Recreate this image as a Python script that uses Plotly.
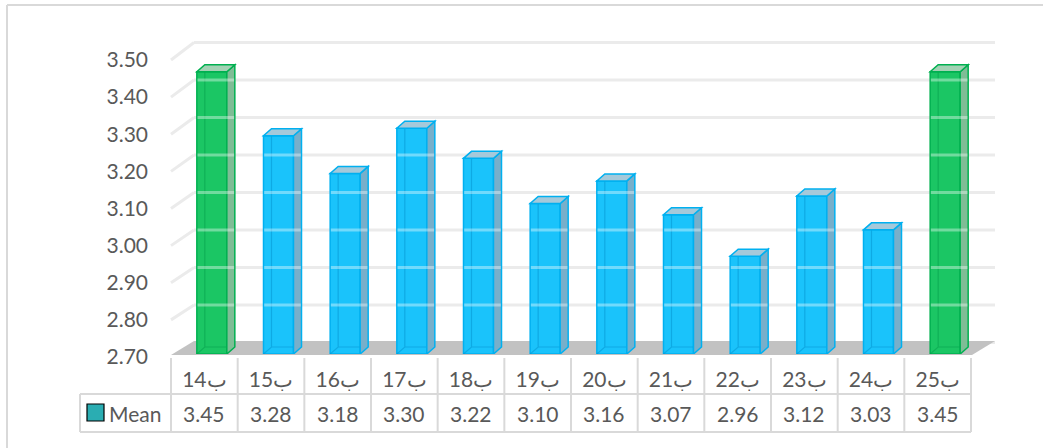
import plotly.graph_objects as go

# ---- data -------------------------------------------------------------
categories = ["ب14", "ب15", "ب16", "ب17", "ب18", "ب19",
              "ب20", "ب21", "ب22", "ب23", "ب24", "ب25"]
mean_values = [3.45, 3.28, 3.18, 3.30, 3.22, 3.10,
               3.16, 3.07, 2.96, 3.12, 3.03, 3.45]
y_ticks = [2.70, 2.80, 2.90, 3.00, 3.10, 3.20, 3.30, 3.40, 3.50]
series_name = "Mean"

# ---- page geometry (pixels) ------------------------------------------
W, H = 1043, 448
Y_MIN, Y_MAX = 2.70, 3.50
X_LEFT, X_RIGHT = 171, 971            # table / category band
BAR_BOTTOM, BAR_TOP = 354, 53          # front plane of the columns
LAB_BOTTOM, LAB_TOP = 357, 60          # value-axis labels
WALL_BOTTOM, WALL_TOP = 342.5, 42.5    # back wall
WALL_X0, WALL_X1 = 194, 995
FLOOR_FRONT, FLOOR_BACK = 355, 341
TABLE_ROW_TOP, TABLE_BOTTOM, TABLE_LEFT = 394, 432, 80
HEADER_TOP = 358

n = len(categories)
col_w = (X_RIGHT - X_LEFT) / n
X_PX = col_w                                   # px per x unit
Y_PX = (BAR_BOTTOM - BAR_TOP) / (Y_MAX - Y_MIN)  # px per y unit

BAR_W_PX, BAR_SHIFT_PX = 30, 7.5
DEPTH_DX, DEPTH_DY = 8, 7

FONT = dict(family="Lato, 'Open Sans', sans-serif", size=21, color="#595959")
GRID = "#ebebeb"
TABLE_LINE = "#d9d9d9"


def px(x):
    return x / W


def py(y):
    return 1 - y / H


def wall_y(v):
    return WALL_BOTTOM - (v - Y_MIN) * (WALL_BOTTOM - WALL_TOP) / (Y_MAX - Y_MIN)


def label_y(v):
    return LAB_BOTTOM - (v - Y_MIN) * (LAB_BOTTOM - LAB_TOP) / (Y_MAX - Y_MIN)


top_value = max(mean_values)
front_col = ["#1bc664" if v == top_value else "#1ac3fb" for v in mean_values]
edge_col = ["#00b050" if v == top_value else "#00b0f0" for v in mean_values]
side_col = ["#7fbd96" if v == top_value else "#78afca" for v in mean_values]
lid_col = ["#a3d2b4" if v == top_value else "#a5c9da" for v in mean_values]
ghost_col = ["rgba(0,150,70,0.45)" if v == top_value else "rgba(0,140,200,0.45)"
             for v in mean_values]

fig = go.Figure()

fig.add_trace(go.Bar(
    x=list(range(n)),
    y=[v - Y_MIN for v in mean_values],
    base=Y_MIN,
    width=BAR_W_PX / X_PX,
    offset=(BAR_SHIFT_PX - BAR_W_PX / 2) / X_PX,
    marker=dict(color=front_col, line=dict(color=edge_col, width=1.5)),
    name=series_name,
    hoverinfo="skip",
    showlegend=False,
))

# carrier for the value axis labels
fig.add_trace(go.Scatter(
    x=[0], y=[Y_MIN], xaxis="x", yaxis="y2", mode="markers",
    marker=dict(opacity=0), hoverinfo="skip", showlegend=False,
))

shapes = []

# chart frame
shapes.append(dict(type="line", xref="paper", yref="paper",
                   x0=px(7), x1=px(W + 5), y0=py(5), y1=py(5),
                   line=dict(color=TABLE_LINE, width=2)))
shapes.append(dict(type="line", xref="paper", yref="paper",
                   x0=px(7), x1=px(7), y0=py(5), y1=py(H + 5),
                   line=dict(color=TABLE_LINE, width=2)))

# back-wall gridlines and their side-wall diagonals
for t in y_ticks:
    yb = wall_y(t)
    shapes.append(dict(type="line", xref="paper", yref="paper", layer="below",
                       x0=px(WALL_X0), x1=px(WALL_X1), y0=py(yb), y1=py(yb),
                       line=dict(color=GRID, width=3)))
    if t > Y_MIN:
        shapes.append(dict(type="line", xref="paper", yref="paper", layer="below",
                           x0=px(X_LEFT), x1=px(WALL_X0),
                           y0=py(label_y(t)), y1=py(yb),
                           line=dict(color=GRID, width=3)))

# floor
shapes.append(dict(
    type="path", xref="paper", yref="paper", layer="below",
    path=(f"M {px(X_LEFT)},{py(FLOOR_FRONT)} L {px(X_RIGHT + 1)},{py(FLOOR_FRONT)} "
          f"L {px(WALL_X1)},{py(FLOOR_BACK)} L {px(WALL_X0)},{py(FLOOR_BACK)} Z"),
    fillcolor="#c2c2c2", line=dict(width=0)))

# 3-D faces of the columns
dx = DEPTH_DX / X_PX
dy = DEPTH_DY / Y_PX
for i, v in enumerate(mean_values):
    xl = i + (BAR_SHIFT_PX - BAR_W_PX / 2) / X_PX
    xr = xl + BAR_W_PX / X_PX
    yb, yt = Y_MIN, v
    # hidden edges seen through the translucent box
    shapes.append(dict(type="path", xref="x", yref="y", layer="above",
                       path=(f"M {xl},{yb} L {xl + dx},{yb + dy} L {xr + dx},{yb + dy} "
                             f"M {xl + dx},{yb + dy} L {xl + dx},{yt + dy}"),
                       line=dict(color=ghost_col[i], width=1.2)))
    # side face
    shapes.append(dict(type="path", xref="x", yref="y", layer="above",
                       path=(f"M {xr},{yb} L {xr},{yt} L {xr + dx},{yt + dy} "
                             f"L {xr + dx},{yb + dy} Z"),
                       fillcolor=side_col[i], line=dict(color=edge_col[i], width=1.5)))
    # top face
    shapes.append(dict(type="path", xref="x", yref="y", layer="above",
                       path=(f"M {xl},{yt} L {xr},{yt} L {xr + dx},{yt + dy} "
                             f"L {xl + dx},{yt + dy} Z"),
                       fillcolor=lid_col[i], line=dict(color=edge_col[i], width=1.5)))
    # back-wall gridlines showing through the column
    for t in y_ticks[1:]:
        g = Y_MIN + (BAR_BOTTOM - wall_y(t)) / Y_PX
        if g < v - 0.005:
            shapes.append(dict(type="line", xref="x", yref="y", layer="above",
                               x0=xl + 0.01, x1=xr + dx - 0.01, y0=g, y1=g,
                               line=dict(color="rgba(255,255,255,0.38)", width=3)))

# data table grid
shapes.append(dict(type="line", xref="paper", yref="paper",
                   x0=px(TABLE_LEFT), x1=px(X_RIGHT), y0=py(TABLE_ROW_TOP), y1=py(TABLE_ROW_TOP),
                   line=dict(color=TABLE_LINE, width=2)))
shapes.append(dict(type="line", xref="paper", yref="paper",
                   x0=px(TABLE_LEFT), x1=px(X_RIGHT), y0=py(TABLE_BOTTOM), y1=py(TABLE_BOTTOM),
                   line=dict(color=TABLE_LINE, width=2)))
shapes.append(dict(type="line", xref="paper", yref="paper",
                   x0=px(TABLE_LEFT), x1=px(TABLE_LEFT), y0=py(TABLE_ROW_TOP), y1=py(TABLE_BOTTOM),
                   line=dict(color=TABLE_LINE, width=2)))
for k in range(n + 1):
    xk = X_LEFT + k * col_w
    shapes.append(dict(type="line", xref="paper", yref="paper",
                       x0=px(xk), x1=px(xk), y0=py(HEADER_TOP), y1=py(TABLE_BOTTOM),
                       line=dict(color=TABLE_LINE, width=2)))

# legend key for the series row
shapes.append(dict(type="rect", xref="paper", yref="paper",
                   x0=px(87), x1=px(104), y0=py(404), y1=py(421),
                   fillcolor="#2aadb2", line=dict(color="#000000", width=1.2)))

row_y = py((TABLE_ROW_TOP + TABLE_BOTTOM) / 2)
annotations = [dict(xref="paper", yref="paper", x=px(107), y=row_y,
                    xanchor="left", yanchor="middle", text=series_name,
                    showarrow=False, font=FONT)]
for i, v in enumerate(mean_values):
    annotations.append(dict(xref="x", yref="paper", x=i, y=row_y,
                            xanchor="center", yanchor="middle",
                            text=f"{v:.2f}", showarrow=False, font=FONT))

fig.update_layout(
    width=W, height=H, autosize=False,
    margin=dict(l=0, r=0, t=0, b=0, pad=0, autoexpand=False),
    paper_bgcolor="white", plot_bgcolor="rgba(0,0,0,0)",
    showlegend=False,
    xaxis=dict(domain=[px(X_LEFT), px(X_RIGHT)], range=[-0.5, n - 0.5],
               tickvals=list(range(n)), ticktext=categories, tickfont=FONT,
               showgrid=False, zeroline=False, showline=False, ticks="",
               ticklabelstandoff=11, fixedrange=True, anchor="y",
               automargin=False),
    yaxis=dict(domain=[py(BAR_BOTTOM), py(BAR_TOP)], range=[Y_MIN, Y_MAX],
               visible=False, fixedrange=True, automargin=False),
    yaxis2=dict(domain=[py(LAB_BOTTOM), py(LAB_TOP)], range=[Y_MIN, Y_MAX],
                anchor="x", side="left", tickvals=y_ticks, tickformat=".2f",
                tickfont=FONT, showgrid=False, zeroline=False, showline=False,
                ticks="", ticklabelstandoff=22, fixedrange=True,
                automargin=False),
    shapes=shapes,
    annotations=annotations,
)

fig.write_html("out.html")
